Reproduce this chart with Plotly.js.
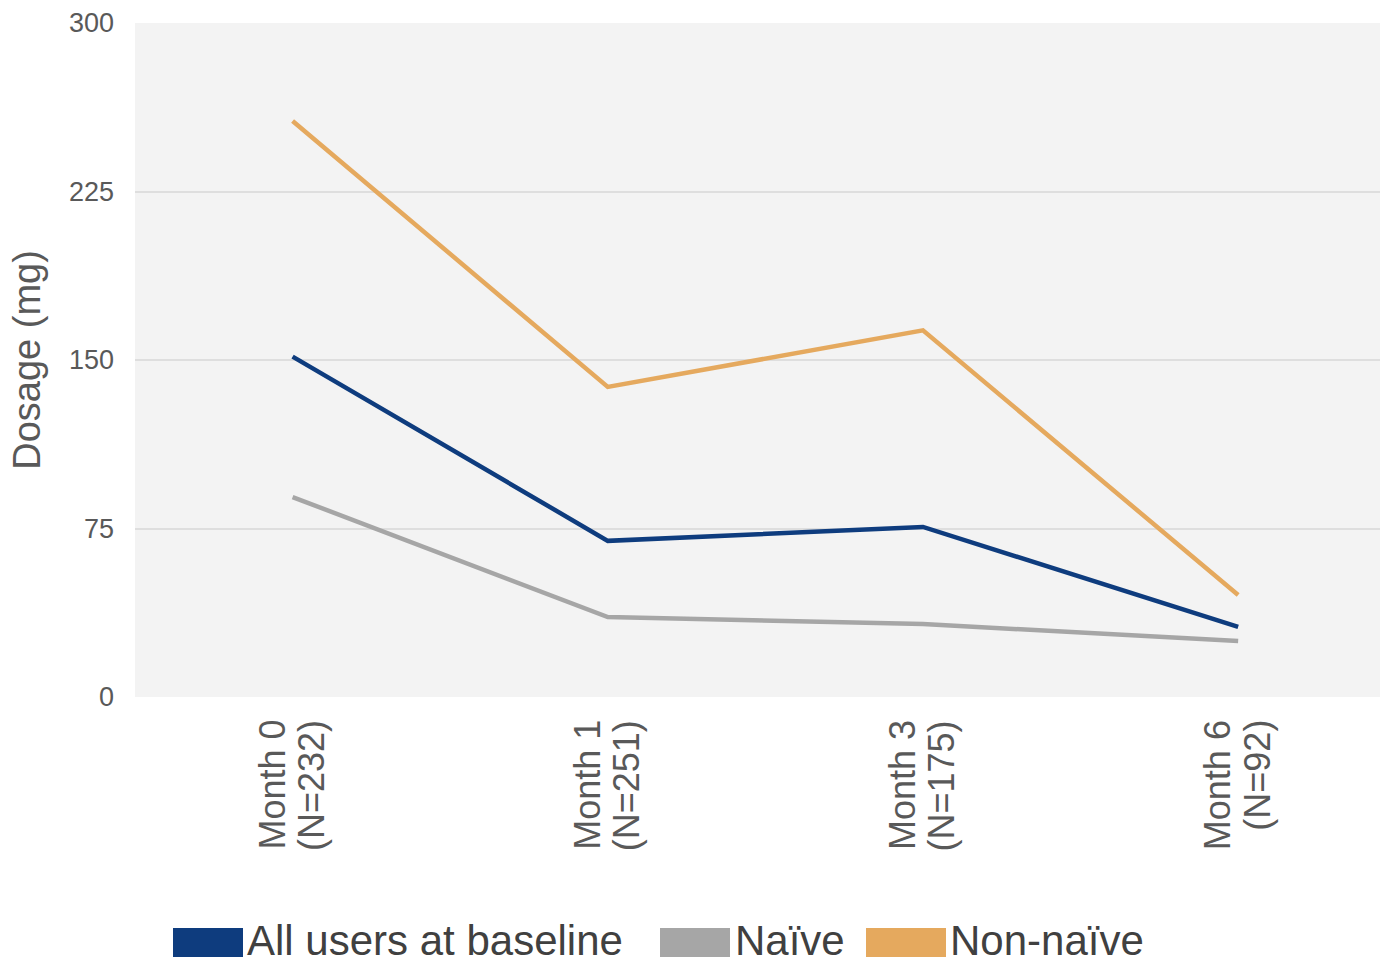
<!DOCTYPE html>
<html>
<head>
<meta charset="utf-8">
<script src="https://cdn.plot.ly/plotly-3.0.1.min.js"></script>
<style>
  html, body { margin: 0; padding: 0; background: #ffffff; }
  #chart { width: 1380px; height: 963px; }
</style>
</head>
<body>
<div id="chart"></div>
<script>
// Visit labels (month and sample size)
const categories = ["Month 0<br>(N=232)", "Month 1<br>(N=251)", "Month 3<br>(N=175)", "Month 6<br>(N=92)"];

// Mean dosage (mg) per group
const allUsers = [151.5, 69.5, 75.7, 31.2];
const naive    = [89.0, 35.6, 32.5, 24.9];
const nonNaive = [256.4, 138.0, 163.2, 45.4];

const seriesNames  = ["All users at baseline", "Naïve", "Non-naïve"];
const seriesColors = ["#0e3c7e", "#a6a6a6", "#e5a95e"];
const seriesValues = [allUsers, naive, nonNaive];

const yTicks = [0, 75, 150, 225, 300];

const idx = categories.map((_, i) => i);

const traces = seriesValues.map((vals, k) => ({
  type: "scatter",
  mode: "lines",
  name: seriesNames[k],
  x: idx,
  y: vals,
  line: { color: seriesColors[k], width: 4.5 },
  showlegend: false,
  hoverinfo: "y+name"
}));

const W = 1380, H = 963;
const L = 135, T = 23, B = 697;
const px2x = p => (p - L) / (W - L);
const px2y = p => (B - p) / (B - T);

const FONT = "Liberation Sans, Arial, sans-serif";
const shapes = [];
const annotations = [];

// Rotated, centred category labels under each point (one annotation per line)
const lineShift = [-21, 19];
categories.forEach((c, i) => {
  c.split("<br>").forEach((part, j) => {
    annotations.push({
      xref: "x", yref: "paper",
      x: i, y: px2y(718), xshift: lineShift[j],
      xanchor: "center", yanchor: "top",
      textangle: -90, align: "center",
      text: part, showarrow: false,
      font: { family: FONT, size: 36, color: "#595959" }
    });
  });
});

// Legend: wide colour blocks with labels beneath the plot
const legendX = [173, 660, 866];
const legendW = [70, 70, 80];
const legendTextX = [245, 733, 948];
seriesNames.forEach((name, k) => {
  shapes.push({
    type: "rect", xref: "paper", yref: "paper", layer: "above",
    x0: px2x(legendX[k]), x1: px2x(legendX[k] + legendW[k]),
    y0: px2y(957), y1: px2y(928),
    fillcolor: seriesColors[k], line: { width: 0 }
  });
  annotations.push({
    xref: "paper", yref: "paper",
    x: px2x(legendTextX[k]), y: px2y(940),
    xanchor: "left", yanchor: "middle",
    text: name, showarrow: false,
    font: { family: FONT, size: 42, color: "#404040" }
  });
});

const layout = {
  width: W, height: H,
  margin: { l: L, r: 0, t: T, b: H - B },
  paper_bgcolor: "#ffffff",
  plot_bgcolor: "#f3f3f3",
  font: { family: FONT, color: "#595959" },
  xaxis: {
    range: [-0.5, 3.45],
    tickmode: "array",
    tickvals: idx,
    showticklabels: false,
    showgrid: false,
    zeroline: false,
    showline: false,
    ticks: "",
    fixedrange: true
  },
  yaxis: {
    range: [0, 300],
    tickmode: "array",
    tickvals: yTicks,
    ticktext: yTicks.map(String),
    tickfont: { size: 27, color: "#595959" },
    showgrid: true,
    gridcolor: "#dedede",
    gridwidth: 2,
    zeroline: false,
    showline: false,
    ticks: "",
    ticklabelstandoff: 20,
    title: {
      text: "Dosage (mg)",
      font: { size: 38, color: "#595959" },
      standoff: 16
    },
    fixedrange: true
  },
  shapes: shapes,
  annotations: annotations,
  showlegend: false
};

Plotly.newPlot("chart", traces, layout, { displayModeBar: false, staticPlot: true });
</script>
</body>
</html>
